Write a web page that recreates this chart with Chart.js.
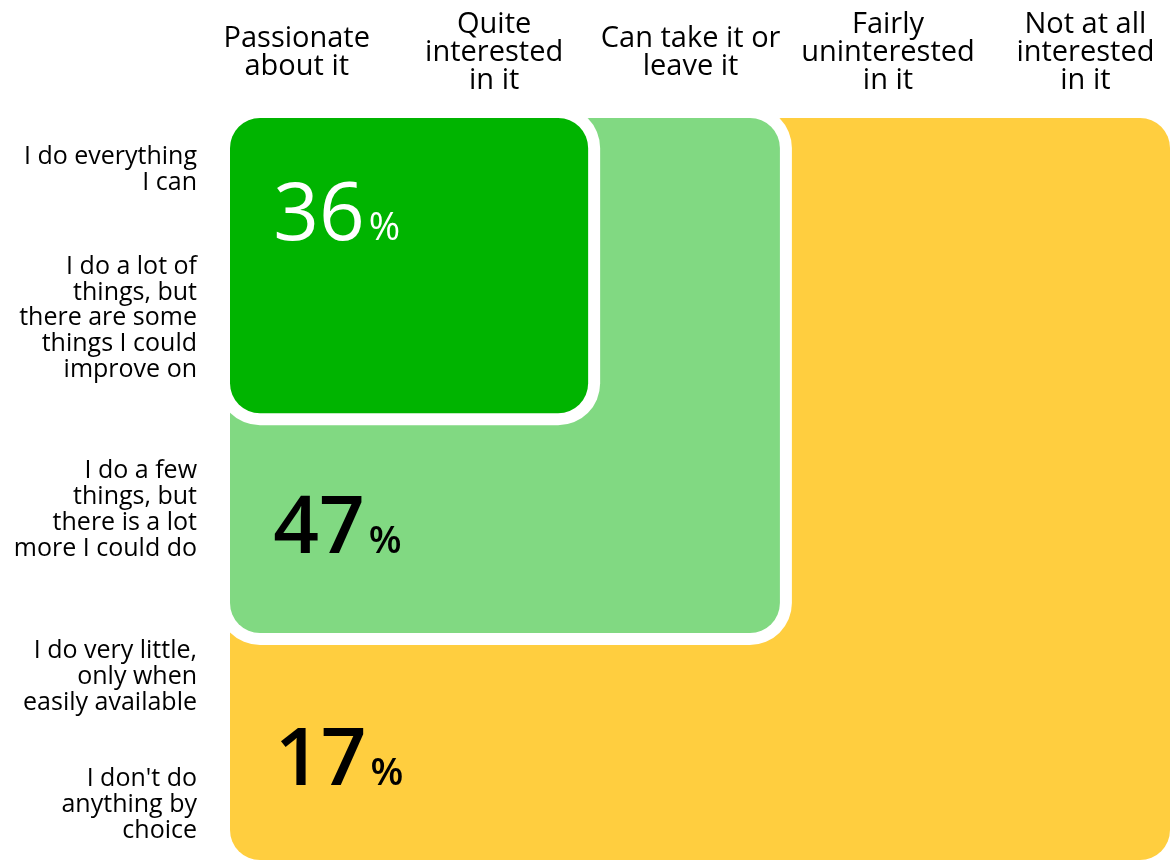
<!DOCTYPE html>
<html>
<head>
<meta charset="utf-8">
<style>
  html, body { margin: 0; padding: 0; background: #ffffff; }
  #wrap { width: 1170px; height: 860px; }
</style>
<script src="https://cdn.jsdelivr.net/npm/chart.js@4/dist/chart.umd.min.js"></script>
</head>
<body>
<div id="wrap"><canvas id="c" width="1170" height="860"></canvas></div>
<script>
// ---- data ----
const columnLabels = [
  ["Passionate", "about it"],
  ["Quite", "interested", "in it"],
  ["Can take it or", "leave it"],
  ["Fairly", "uninterested", "in it"],
  ["Not at all", "interested", "in it"]
];
const rowLabels = [
  ["I do everything", "I can"],
  ["I do a lot of", "things, but", "there are some", "things I could", "improve on"],
  ["I do a few", "things, but", "there is a lot", "more I could do"],
  ["I do very little,", "only when", "easily available"],
  ["I don't do", "anything by", "choice"]
];
const groupNames = ["Engaged", "Partly engaged", "Disengaged"];
const shares = [36, 47, 17];
// extent of each block on the layout scales (0-100)
const blockXEnd = [38.1, 58.5, 100];
const blockYEnd = [39.8, 69.4, 100];
// tick positions on the layout scales
const columnPositions = [7.1, 28.1, 49.0, 70.0, 91.0];
const rowPositions = [7.0, 27.0, 52.8, 75.3, 92.6];
// label anchor (left, baseline) on the layout scales
const labelX = [4.6, 4.6, 4.8];
const labelY = [16.4, 58.6, 89.9];

// ---- styles ----
const blockColors = ["#00b400", "#81d982", "#ffce3f"];
const labelColors = ["#ffffff", "#000000", "#000000"];
const labelWeights = ["400", "600", "600"];
const FONT = "'Open Sans', sans-serif";

const blocksPlugin = {
  id: 'blocks',
  beforeDatasetsDraw(chart) {
    const { ctx, scales: { x, y } } = chart;
    const x0 = x.getPixelForValue(0), y0 = y.getPixelForValue(0);
    const gap = 12, r = 30;
    for (let i = shares.length - 1; i >= 0; i--) {
      const pt = chart.getDatasetMeta(i).data[0];
      const x1 = pt.x, y1 = pt.y;
      ctx.save();
      ctx.fillStyle = '#ffffff';
      ctx.beginPath();
      ctx.roundRect(x0 - gap, y0 - gap, x1 - x0 + 2 * gap, y1 - y0 + 2 * gap, r + gap);
      ctx.fill();
      ctx.fillStyle = blockColors[i];
      ctx.beginPath();
      ctx.roundRect(x0, y0, x1 - x0, y1 - y0, r);
      ctx.fill();
      ctx.restore();
    }
  },
  afterDatasetsDraw(chart) {
    const { ctx, scales: { x, y } } = chart;
    for (let i = 0; i < shares.length; i++) {
      const px = x.getPixelForValue(labelX[i]);
      const py = y.getPixelForValue(labelY[i]);
      ctx.save();
      ctx.fillStyle = labelColors[i];
      ctx.textBaseline = 'alphabetic';
      ctx.textAlign = 'left';
      ctx.font = `${labelWeights[i]} 80px ${FONT}`;
      const txt = String(shares[i]);
      ctx.fillText(txt, px, py);
      const w = ctx.measureText(txt).width;
      ctx.font = `${labelWeights[i]} 38px ${FONT}`;
      ctx.fillText('%', px + w + 4, py);
      ctx.restore();
    }
  }
};

function noPad(s) {
  s.paddingTop = 0; s.paddingBottom = 0; s.paddingLeft = 0; s.paddingRight = 0;
}

new Chart(document.getElementById('c'), {
  type: 'scatter',
  data: {
    datasets: shares.map((s, i) => ({
      label: groupNames[i],
      data: [{ x: blockXEnd[i], y: blockYEnd[i] }],
      pointRadius: 0,
      backgroundColor: blockColors[i]
    }))
  },
  options: {
    responsive: false,
    animation: false,
    layout: { padding: 0 },
    plugins: { legend: { display: false }, tooltip: { enabled: false } },
    scales: {
      x: {
        type: 'linear', position: 'top', min: 0, max: 100,
        grid: { display: false, drawTicks: false },
        border: { display: false },
        afterBuildTicks: (s) => { s.ticks = columnPositions.map(v => ({ value: v })); },
        afterFit: (s) => { s.height = 118; noPad(s); },
        ticks: {
          autoSkip: false, maxRotation: 0, minRotation: 0,
          color: '#000000', padding: 37, crossAlign: 'center',
          font: { family: FONT, size: 29, lineHeight: 0.97 },
          callback: (v, i) => columnLabels[i]
        }
      },
      y: {
        type: 'linear', position: 'left', min: 0, max: 100, reverse: true,
        grid: { display: false, drawTicks: false },
        border: { display: false },
        afterBuildTicks: (s) => { s.ticks = rowPositions.map(v => ({ value: v })); },
        afterFit: (s) => { s.width = 230; noPad(s); },
        ticks: {
          autoSkip: false, color: '#000000', padding: 33,
          font: { family: FONT, size: 25, lineHeight: 1.03 },
          callback: (v, i) => rowLabels[i]
        }
      }
    }
  },
  plugins: [blocksPlugin]
});
</script>
</body>
</html>
